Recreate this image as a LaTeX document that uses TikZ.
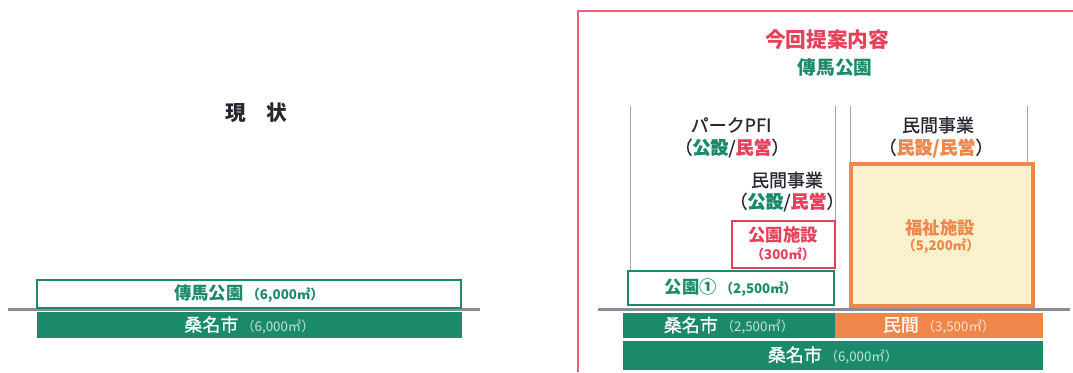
\documentclass[tikz,border=0pt]{standalone}
\usepackage{fontspec}
\setmainfont{Noto Sans CJK JP}
\newfontfamily\medfont{Noto Sans CJK JP}[FakeBold=0.7]
\usetikzlibrary{patterns,fit}
\definecolor{grn}{HTML}{1B8A6B}
\definecolor{redc}{HTML}{E8405A}
\definecolor{framec}{HTML}{E9607A}
\definecolor{orgc}{HTML}{F0874A}
\definecolor{gline}{HTML}{8C8C96}
\definecolor{ylw}{HTML}{FEF6D8}
\definecolor{ylwl}{HTML}{F3E3B0}
\definecolor{dark}{HTML}{26262F}
\tikzset{
  lbl/.style={font=\bfseries\fontsize{13}{15}\selectfont, inner sep=0pt, text=dark},
  plain/.style={font=\medfont\fontsize{13.5}{15}\selectfont, inner sep=0pt, text=dark},
  ttl/.style={font=\bfseries\fontsize{15.5}{18}\selectfont, inner sep=0pt},
  ground/.style={draw=gline, line width=1.6pt},
  vline/.style={draw=gline!80, line width=0.6pt},
  box/.style={inner sep=0pt, line width=1.7pt},
  bar/.style={inner sep=0pt, draw=none},
  bartxt/.style={font=\medfont\fontsize{13.5}{15}\selectfont, inner sep=0pt, text=white},
}
\newcommand{\sm}[1]{{\fontsize{10}{12}\selectfont #1}}
\newcommand{\smw}[1]{{\normalfont\fontsize{10}{12}\selectfont\color{white!75!grn}#1}}
\newcommand{\smo}[1]{{\normalfont\fontsize{10}{12}\selectfont\color{white!75!orgc}#1}}
\begin{document}
\begin{tikzpicture}[x=0.75pt,y=-0.75pt]
\useasboundingbox (0,0) rectangle (1073,372);
% ---------- left: current state ----------
\node[ttl, text=dark] (now) at (256,113) {現　状};
\coordinate (gL1) at (8,309.5);
\coordinate (gL2) at (480,309.5);
\draw[ground] (gL1) -- (gL2);
\node[box, draw=grn, fill=white, fit={(37,280) (461,308)}] (parkL) {};
\node[lbl, text=grn] (parkLt) at (parkL.center) {傳馬公園\,\sm{（6,000㎡）}};
\node[bar, fill=grn, fit={(37,312) (462,338)}] (cityL) {};
\node[bartxt] (cityLt) at (cityL.center) {桑名市\,\smw{（6,000㎡）}};
% ---------- right: proposal ----------
\coordinate (fr1) at (578,372);
\coordinate (fr2) at (578,11);
\coordinate (fr3) at (1073,11);
\draw[framec, line width=1.5pt] (fr1) -- (fr2) -- (fr3);
\node[ttl, text=redc] (prop) at (827,40) {今回提案内容};
\node[lbl, text=grn, font=\bfseries\fontsize{14}{16}\selectfont] (propsub) at (835,67) {傳馬公園};
% vertical guide lines
\coordinate (v1a) at (630,106); \coordinate (v1b) at (630,271);
\coordinate (v2a) at (835,106); \coordinate (v2b) at (835,220);
\coordinate (v3a) at (850,106); \coordinate (v3b) at (850,163);
\coordinate (v4a) at (1027,106); \coordinate (v4b) at (1027,163);
\draw[vline] (v1a) -- (v1b);
\draw[vline] (v2a) -- (v2b);
\draw[vline] (v3a) -- (v3b);
\draw[vline] (v4a) -- (v4b);
% labels
\node[plain] (pfi) at (731,125) {パークPFI};
\node[plain] (pfi2) at (732,148) {（{\bfseries\color{grn}公設}/{\bfseries\color{redc}民営}）};
\node[plain] (min1) at (787,180) {民間事業};
\node[plain] (min1b) at (787,202) {（{\bfseries\color{grn}公設}/{\bfseries\color{redc}民営}）};
\node[plain] (min2) at (938,125) {民間事業};
\node[plain] (min2b) at (936,148) {（{\bfseries\color{orgc}民設/民営}）};
% ground
\coordinate (gR1) at (598,309.5);
\coordinate (gR2) at (1070,309.5);
\draw[ground] (gR1) -- (gR2);
% park facility
\node[box, draw=redc, fill=white, fit={(732,221) (835,268)}] (fac) {};
\node[lbl, text=redc] (fact) at (783,235) {公園施設};
\node[lbl, text=redc] (fact2) at (783,254) {\sm{（300㎡）}};
% park 1
\node[box, draw=grn, fill=white, fit={(628,271) (834,305)}] (park1) {};
\node[lbl, text=grn] (park1t) at (park1.center) {公園①\,\sm{（2,500㎡）}};
% welfare
\node[inner sep=0pt, fill=ylw, fit={(851,164.5) (1033,305.5)}] (wel) {};
\fill[pattern=north east lines, pattern color=ylwl] (wel.south west) rectangle (wel.north east);
\draw[orgc, line width=3pt] (wel.south west) rectangle (wel.north east);
\node[lbl, text=orgc] (welt) at (940,228) {福祉施設};
\node[lbl, text=orgc] (welt2) at (941,246) {\sm{（5,200㎡）}};
% bars
\node[bar, fill=grn, fit={(623,313) (835,338)}] (cityA) {};
\node[bartxt] (cityAt) at (cityA.center) {桑名市\,\smw{（2,500㎡）}};
\node[bar, fill=orgc, fit={(835,313) (1043,338)}] (priv) {};
\node[bartxt] (privt) at (priv.center) {民間\,\smo{（3,500㎡）}};
\node[bar, fill=grn, fit={(623,340.5) (1043,370)}] (cityB) {};
\node[bartxt] (cityBt) at (cityB.center) {桑名市\,\smw{（6,000㎡）}};
\end{tikzpicture}
\end{document}
